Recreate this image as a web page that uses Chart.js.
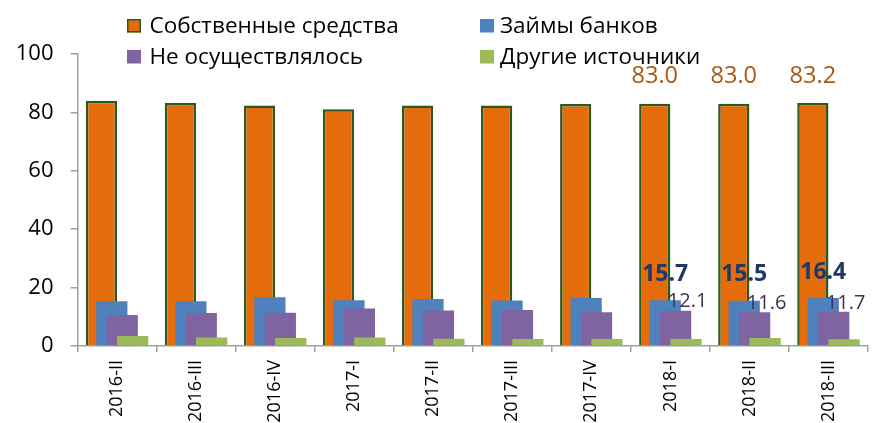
<!DOCTYPE html>
<html><head><meta charset="utf-8">
<script src="https://cdn.jsdelivr.net/npm/chart.js@4"></script>
<style>html,body{margin:0;padding:0;background:#fff;} #wrap{width:873px;height:423px;position:relative}</style>
</head><body><div id="wrap"><canvas id="c"></canvas></div>
<script>
const categories = ['2016-II','2016-III','2016-IV','2017-I','2017-II','2017-III','2017-IV','2018-I','2018-II','2018-III'];
const ownFunds = [84.0,83.2,82.4,81.1,82.4,82.4,82.9,83.0,83.0,83.2];
const bankLoans = [15.3,15.3,16.7,15.7,16.1,15.6,16.4,15.7,15.5,16.4];
const notCarried = [10.6,11.3,11.4,12.8,12.2,12.3,11.6,12.1,11.6,11.7];
const otherSources = [3.4,2.9,2.7,2.9,2.5,2.4,2.4,2.4,2.7,2.3];
const seriesNames = ['Собственные средства','Займы банков','Не осуществлялось','Другие источники'];
const yTickValues = [0,20,40,60,80,100];
const labelledCategories = ['2018-I','2018-II','2018-III'];

const COLORS = ['#E46C0A','#4F81BD','#8064A2','#9BBB59'];
const ORANGE_BORDER = '#2C5A1C';
const AXIS = '#A0A0A0';
const FONT = '"Open Sans", sans-serif';

// draw datasets so that later series sit on top of earlier ones
const drawOrder = {
  id: 'drawOrder',
  beforeDatasetsDraw(chart) {
    const metas = chart.getSortedVisibleDatasetMetas();
    for (const m of metas) {
      if (typeof chart._drawDataset === 'function') chart._drawDataset(m);
      else m.controller.draw();
    }
    return false;
  }
};

// legend in a 2x2 grid and value labels
const overlay = {
  id: 'overlay',
  afterDraw(chart) {
    const ctx = chart.ctx;
    ctx.save();
    const boxX = [127, 480], textX = [149.5, 500], boxY = [19, 50], baseY = [32.5, 64];
    seriesNames.forEach((name, i) => {
      const c = i % 2, r = Math.floor(i / 2);
      ctx.fillStyle = COLORS[i];
      ctx.fillRect(boxX[c], boxY[r], 14, 13.5);
      if (i === 0) { ctx.strokeStyle = ORANGE_BORDER; ctx.lineWidth = 1.5; ctx.strokeRect(boxX[c] + 0.75, boxY[r] + 0.75, 12.5, 12); }
      ctx.fillStyle = '#000';
      ctx.font = '22.5px ' + FONT;
      ctx.textAlign = 'left';
      ctx.textBaseline = 'alphabetic';
      ctx.fillText(name, textX[c], baseY[r]);
    });
    const m0 = chart.getDatasetMeta(0), m1 = chart.getDatasetMeta(1), m2 = chart.getDatasetMeta(2);
    ctx.textBaseline = 'middle';
    labelledCategories.forEach(cat => {
      const j = categories.indexOf(cat);
      if (j < 0) return;
      const b0 = m0.data[j], b1 = m1.data[j], b2 = m2.data[j];
      ctx.textAlign = 'center';
      ctx.fillStyle = '#A85A14';
      ctx.font = '23.5px ' + FONT;
      ctx.fillText(ownFunds[j].toFixed(1), b0.x, b0.y - 27);
      ctx.fillStyle = '#1F3864';
      ctx.font = 'bold 23px ' + FONT;
      ctx.fillText(bankLoans[j].toFixed(1), b1.x, b1.y - 26);
      ctx.fillStyle = '#3F3151';
      ctx.font = '20px ' + FONT;
      ctx.fillText(notCarried[j].toFixed(1), b2.x + 12, b2.y - 9);
    });
    ctx.restore();
  }
};

const seriesValues = [ownFunds, bankLoans, notCarried, otherSources];
const datasets = seriesValues.map((vals, i) => ({
  label: seriesNames[i],
  data: vals,
  backgroundColor: COLORS[i],
  borderColor: i === 0 ? ORANGE_BORDER : COLORS[i],
  borderWidth: i === 0 ? 2.5 : 0,
  borderSkipped: 'start',
  categoryPercentage: 0.527,
  barPercentage: 3.0
}));

new Chart(document.getElementById('c'), {
  type: 'bar',
  data: { labels: categories, datasets },
  plugins: [drawOrder, overlay],
  options: {
    responsive: true,
    maintainAspectRatio: false,
    animation: false,
    layout: { padding: { top: 54, left: 15, right: 5, bottom: 0 } },
    plugins: { legend: { display: false }, tooltip: { enabled: false } },
    scales: {
      x: {
        grid: { display: true, drawOnChartArea: false, drawTicks: true, tickLength: 6, color: AXIS, lineWidth: 1.5, offset: true },
        border: { display: true, color: AXIS, width: 1.5 },
        ticks: { autoSkip: false, minRotation: 90, maxRotation: 90, padding: 8, color: '#000', font: { family: FONT, size: 18 } },
        afterFit(s) { s.height = 77; }
      },
      y: {
        min: 0, max: 100,
        afterBuildTicks(s) { s.ticks = yTickValues.map(v => ({ value: v })); },
        grid: { display: true, drawOnChartArea: false, drawTicks: true, tickLength: 7, color: AXIS, lineWidth: 1.5 },
        border: { display: true, color: AXIS, width: 1.5 },
        ticks: { padding: 17, color: '#000', font: { family: FONT, size: 22 } },
        afterFit(s) { s.width = 62.5; }
      }
    }
  }
});
</script>
</body></html>
